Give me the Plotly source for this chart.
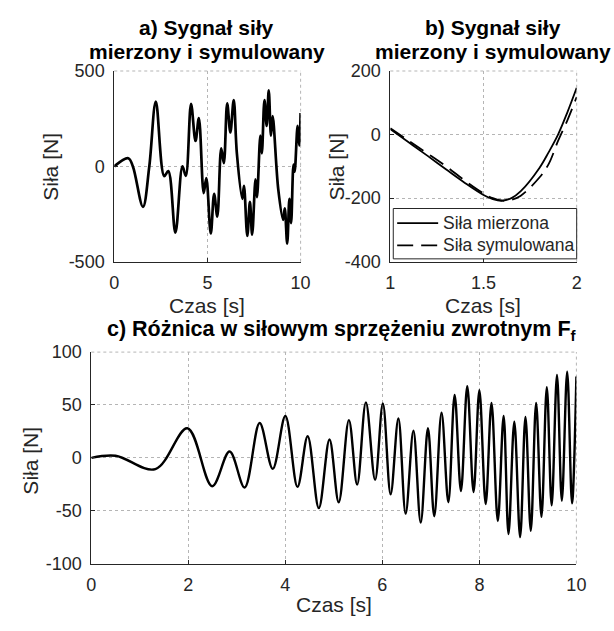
import plotly.graph_objects as go

# ---- data ----
a_t = [0, 0.75, 1.0, 1.54, 1.88, 2.23, 2.68, 2.9, 3.28, 3.66, 3.84, 4.12, 4.36, 4.54,
       4.80, 4.94, 5.18, 5.36, 5.53, 5.74, 5.88, 6.06, 6.23, 6.41, 6.58, 6.87, 6.96,
       7.14, 7.28, 7.40, 7.58, 7.66, 7.84, 7.92, 8.06, 8.18, 8.29, 8.41, 8.50, 8.80,
       9.06, 9.15, 9.28, 9.40, 9.49, 9.62, 9.68, 9.84, 9.93, 10.0]
a_F = [0, 43, 0, -212, 0, 340, -51, -25, -348, 0, -50, 328, 133, 253,
       -140, -62, -352, -144, -263, 94, 17, 331, 178, 348, 68, -170, -102,
       -365, -186, -358, -68, -161, 161, 68, 348, 212, 399, 161, 263, -119,
       -280, -220, -405, -170, -297, 9, -28, 212, 110, 280]

b_t = [1.0, 1.1, 1.2, 1.3, 1.4, 1.5, 1.55, 1.6, 1.65, 1.7, 1.8, 1.85, 1.9, 1.95, 2.0]
b_meas = [17, -25, -67, -110, -152, -190, -203, -208, -200, -178, -105, -55, 0, 70, 147]
b_sim = [20, -20, -60, -100, -145, -185, -200, -208, -205, -192, -135, -92, -20, 45, 118]
b_names = ["Siła mierzona", "Siła symulowana"]

c_t = [0, 0.5, 1.32, 1.98, 2.49, 2.85, 3.16, 3.47, 3.74, 4.0, 4.25, 4.46, 4.69, 4.91,
       5.10, 5.31, 5.48, 5.66, 5.85, 6.01, 6.17, 6.33, 6.48, 6.64, 6.79, 6.94, 7.07,
       7.22, 7.36, 7.49, 7.62, 7.75, 7.88, 8.0, 8.13, 8.25, 8.38, 8.50, 8.60, 8.72,
       8.84, 8.95, 9.06, 9.17, 9.28, 9.39, 9.49, 9.60, 9.70, 9.81, 9.91, 10.0]
c_F = [0, 2, -10.7, 28, -26.8, 6, -28, 33, -10.4, 39.6, -27.5, 20.4, -47.6, 17.4,
       -42, 35.7, -25.3, 52.5, -20.7, 51.5, -34.5, 37.2, -52.8, 25.6, -61.3, 28, -55.2,
       42.7, -42, 59.5, -31.4, 67.7, -32.3, 64, -43.6, 51.9, -59.8, 39.7, -72, 34.2,
       -75, 38.7, -69, 51.9, -55.8, 66.8, -45, 78.4, -40.6, 81.4, -43, 76.9]

a_xticks = [0, 5, 10]
a_yticks = [-500, 0, 500]
a_yticklabels = ["-500", "0", "500"]
b_xticks = [1, 1.5, 2]
b_xticklabels = ["1", "1.5", "2"]
b_yticks = [-400, -200, 0, 200]
b_yticklabels = ["-400", "-200", "0", "200"]
c_xticks = [0, 2, 4, 6, 8, 10]
c_yticks = [-100, -50, 0, 50, 100]
c_yticklabels = ["-100", "-50", "0", "50", "100"]

W, H = 614, 631
FONT = "Liberation Sans, Arial, sans-serif"
TXT = "#262626"
GRID = "#b5b5b5"
DASH = "16px,8px"

fig = go.Figure()
fig.add_trace(go.Scatter(x=a_t, y=a_F, mode="lines", line=dict(color="black", width=2.7, shape="spline"),
                         showlegend=False, xaxis="x", yaxis="y"))
fig.add_trace(go.Scatter(x=b_t, y=b_meas, mode="lines", name=b_names[0], showlegend=False,
                         line=dict(color="black", width=1.8, shape="spline"), xaxis="x2", yaxis="y2"))
fig.add_trace(go.Scatter(x=b_t, y=b_sim, mode="lines", name=b_names[1], showlegend=False,
                         line=dict(color="black", width=1.8, shape="spline", dash=DASH),
                         xaxis="x2", yaxis="y2"))
fig.add_trace(go.Scatter(x=c_t, y=c_F, mode="lines", line=dict(color="black", width=2.4, shape="spline"),
                         showlegend=False, xaxis="x3", yaxis="y3"))

def px_x(p):
    return p / W

def px_y(p):
    return 1 - p / H

common = dict(showgrid=True, gridcolor=GRID, griddash="dot", gridwidth=1,
              showline=True, linecolor=TXT, linewidth=1, ticks="inside", ticklen=4,
              tickcolor=TXT, zeroline=False, tickfont=dict(family=FONT, size=18, color=TXT),
              ticklabelstandoff=5, fixedrange=True)

fig.update_layout(
    width=W, height=H, margin=dict(l=0, r=0, t=0, b=0),
    paper_bgcolor="white", plot_bgcolor="white",
    font=dict(family=FONT, color=TXT), showlegend=False,
    xaxis=dict(domain=[px_x(112), px_x(303)], range=[0, 10], tickvals=a_xticks, anchor="y", **common),
    yaxis=dict(domain=[px_y(260), px_y(63)], range=[-500, 500], tickvals=a_yticks,
               ticktext=a_yticklabels, anchor="x", **common),
    xaxis2=dict(domain=[px_x(395), px_x(586)], range=[1, 2], tickvals=b_xticks,
                ticktext=b_xticklabels, anchor="y2", **common),
    yaxis2=dict(domain=[px_y(260), px_y(63)], range=[-400, 200], tickvals=b_yticks,
                ticktext=b_yticklabels, anchor="x2", **common),
    xaxis3=dict(domain=[px_x(88.5), px_x(585.7)], range=[0, 10], tickvals=c_xticks, anchor="y3", **common),
    yaxis3=dict(domain=[px_y(571.7), px_y(353.3)], range=[-100, 100], tickvals=c_yticks,
                ticktext=c_yticklabels, anchor="x3", **common),
)

shapes = []
# dotted top / right box edges (as in the reference)
for xa, ya in [("x", "y"), ("x2", "y2"), ("x3", "y3")]:
    shapes.append(dict(type="line", xref=f"{xa} domain", yref=f"{ya} domain", x0=0, x1=1, y0=1, y1=1,
                       line=dict(color=GRID, width=1, dash="dot"), layer="below"))
    shapes.append(dict(type="line", xref=f"{xa} domain", yref=f"{ya} domain", x0=1, x1=1, y0=0, y1=1,
                       line=dict(color=GRID, width=1, dash="dot"), layer="below"))

# legend box (panel b)
shapes.append(dict(type="rect", xref="paper", yref="paper", x0=px_x(398), x1=px_x(586),
                   y0=px_y(257), y1=px_y(205), fillcolor="white", line=dict(color=TXT, width=1)))
shapes.append(dict(type="line", xref="paper", yref="paper", x0=px_x(402), x1=px_x(444),
                   y0=px_y(220), y1=px_y(220), line=dict(color="black", width=1.8)))
shapes.append(dict(type="line", xref="paper", yref="paper", x0=px_x(402), x1=px_x(446),
                   y0=px_y(243), y1=px_y(243), line=dict(color="black", width=1.8, dash=DASH)))
fig.update_layout(shapes=shapes)

ann = []
def text(x, y, s, size, bold=False, angle=0, anchor="center"):
    ann.append(dict(x=px_x(x), y=px_y(y), xref="paper", yref="paper", text=(f"<b>{s}</b>" if bold else s),
                    showarrow=False, xanchor=anchor, yanchor="middle", textangle=angle,
                    font=dict(family=FONT, size=size, color="black" if bold else TXT)))

text(207, 18, "a) Sygnał siły", 21, True)
text(207, 43, "mierzony i symulowany", 21, True)
text(500, 18, "b) Sygnał siły", 21, True)
text(500, 43, "mierzony i symulowany", 21, True)
text(345, 331, "c) Różnica w siłowym sprzężeniu zwrotnym F<sub>f</sub>", 21.5, True)
text(207, 305, "Czas [s]", 21)
text(490, 305, "Czas [s]", 21)
text(337, 614, "Czas [s]", 21)
text(47, 162, "Siła [N]", 21, angle=-90)
text(340, 162, "Siła [N]", 21, angle=-90)
text(26, 465, "Siła [N]", 21, angle=-90)
text(447, 220, b_names[0], 17.5, anchor="left")
text(447, 243, b_names[1], 17.5, anchor="left")
fig.update_layout(annotations=ann)

fig.write_html("out.html")
